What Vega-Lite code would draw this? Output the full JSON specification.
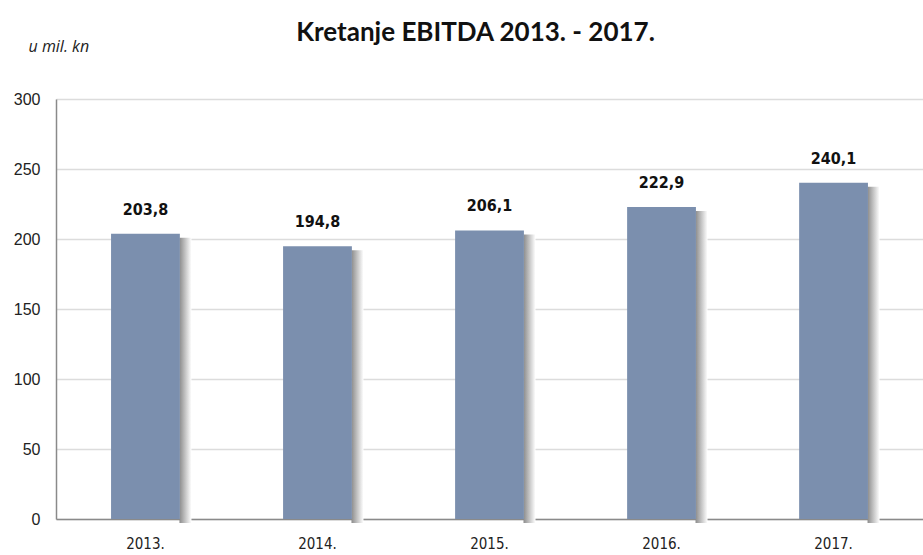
{
  "$schema": "https://vega.github.io/schema/vega-lite/v6.json",
  "width": 867,
  "height": 420,
  "autosize": {"type": "none"},
  "padding": {"left": 56, "top": 99, "right": 0, "bottom": 36},
  "background": "white",
  "title": {
    "text": "Kretanje EBITDA 2013. - 2017.",
    "font": "Lato",
    "fontSize": 26,
    "fontWeight": "bold",
    "color": "#111111",
    "anchor": "middle",
    "frame": "group",
    "dx": -14,
    "offset": -8
  },
  "data": {
    "values": [
      {"year": "2013.", "value": 203.8, "label": "203,8"},
      {"year": "2014.", "value": 194.8, "label": "194,8"},
      {"year": "2015.", "value": 206.1, "label": "206,1"},
      {"year": "2016.", "value": 222.9, "label": "222,9"},
      {"year": "2017.", "value": 240.1, "label": "240,1"}
    ]
  },
  "encoding": {
    "x": {
      "field": "year",
      "type": "nominal",
      "sort": null,
      "scale": {"paddingInner": 0.6, "paddingOuter": 0.32},
      "axis": {
        "title": null,
        "labelAngle": 0,
        "labelFont": "DejaVu Sans Condensed",
        "labelFontSize": 15,
        "labelColor": "#222222",
        "labelPadding": 17,
        "ticks": false,
        "domainColor": "#8a8a8a",
        "domainWidth": 1.5
      }
    },
    "y": {
      "field": "value",
      "type": "quantitative",
      "scale": {"domain": [0, 300], "nice": false},
      "axis": {
        "title": "u mil. kn",
        "titleAngle": 0,
        "titleAlign": "left",
        "titleBaseline": "bottom",
        "titleX": -28,
        "titleY": -45,
        "titleFont": "Open Sans",
        "titleFontStyle": "italic",
        "titleFontWeight": "normal",
        "titleFontSize": 16,
        "titleColor": "#222222",
        "values": [0, 50, 100, 150, 200, 250, 300],
        "labelFont": "Liberation Sans",
        "labelFontSize": 16,
        "labelColor": "#222222",
        "labelPadding": 16,
        "ticks": false,
        "domainColor": "#8a8a8a",
        "domainWidth": 1.5,
        "gridColor": "#dcdcdc",
        "gridWidth": 1.5
      }
    }
  },
  "layer": [
    {
      "mark": {
        "type": "bar",
        "size": 12,
        "xOffset": 40,
        "yOffset": 4,
        "color": {
          "gradient": "linear",
          "x1": 0, "x2": 1, "y1": 0, "y2": 0,
          "stops": [
            {"offset": 0, "color": "#8c8c8c"},
            {"offset": 1, "color": "#ffffff"}
          ]
        }
      }
    },
    {
      "mark": {"type": "bar", "color": "#7b8fae"}
    },
    {
      "mark": {
        "type": "text",
        "baseline": "bottom",
        "dy": -16,
        "font": "DejaVu Sans Condensed",
        "fontWeight": "bold",
        "fontSize": 16,
        "color": "#111111"
      },
      "encoding": {"text": {"field": "label"}}
    }
  ],
  "config": {"view": {"stroke": null}}
}
